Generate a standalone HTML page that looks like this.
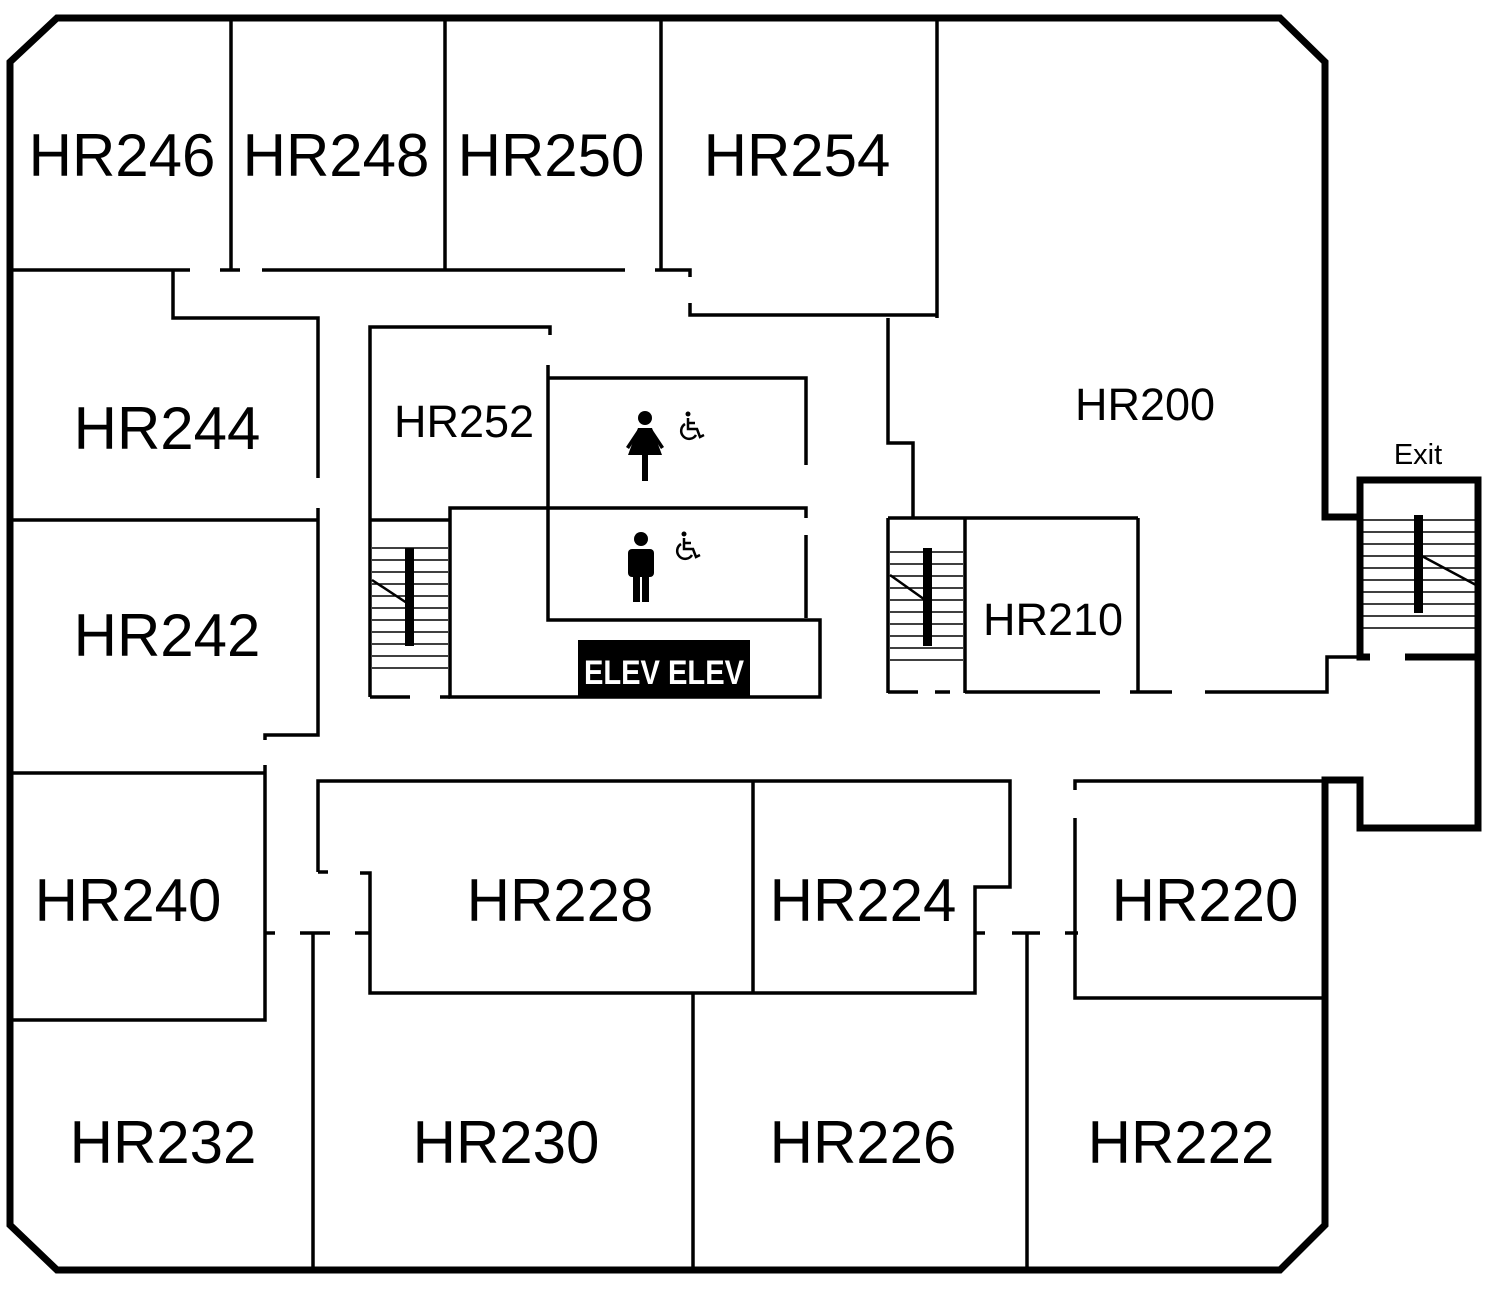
<!DOCTYPE html>
<html><head><style>
html,body{margin:0;padding:0;background:#fff;}
svg{display:block;}
text{font-family:"Liberation Sans",sans-serif;fill:#000;}
</style></head><body>
<svg width="1485" height="1290" viewBox="0 0 1485 1290" xmlns="http://www.w3.org/2000/svg">
<g fill="none" stroke="#000" stroke-width="7" stroke-linejoin="miter">
<path d="M57,18 L1280,18 L1325,62 L1325,517 L1360,517 L1360,480 L1478,480 L1478,828 L1360,828 L1360,780 L1325,780 L1325,1225 L1280,1270 L57,1270 L10,1225 L10,62 Z"/>
<path d="M1360,517 L1360,657 L1370,657 M1405,657 L1478,657"/>
</g>
<g fill="none" stroke="#000" stroke-width="3.5">
<path d="M231,18 L231,270 M445,18 L445,270 M661,18 L661,270 M937,18 L937,318"/>
<path d="M10,270 L190,270 M220,270 L240,270 M262,270 L625,270 M655,270 L690,270 L690,277 M690,303 L690,315 L937,315"/>
<path d="M173,270 L173,318 L318,318 L318,478 M318,508 L318,735 L265,735 L265,740"/>
<path d="M10,520 L318,520"/>
<path d="M10,773 L265,773 M265,765 L265,1020 L10,1020"/>
<path d="M265,933 L275,933 M300,933 L330,933 M355,933 L370,933 M313,933 L313,1270"/>
<path d="M318,872 L318,781 L1010,781 L1010,887 L975,887 L975,993 L370,993 L370,873 L360,873 M318,872 L328,872"/>
<path d="M753,781 L753,993 M693,993 L693,1270"/>
<path d="M975,933 L985,933 M1012,933 L1040,933 M1065,933 L1078,933 M1027,933 L1027,1270"/>
<path d="M1075,790 L1075,781 L1325,781 M1075,818 L1075,998 L1325,998"/>
<path d="M370,697 L370,327 L550,327 L550,335 M548,365 L548,620 L820,620 L820,697 L450,697 L450,508 L806,508 L806,518"/>
<path d="M548,378 L806,378 L806,465 M806,535 L806,618"/>
<path d="M370,520 L450,520 M370,697 L410,697 M440,697 L450,697"/>
<path d="M888,318 L888,443 L913,443 L913,518 M888,518 L1138,518 M888,518 L888,693 M965,518 L965,693 M1138,518 L1138,693"/>
<path d="M888,692 L918,692 M935,692 L950,692 M965,692 L1100,692 M1130,692 L1172,692 M1205,692 L1327,692 L1327,657 L1360,657"/>
</g>
<g stroke="#000" stroke-width="1.5">
<path d="M372,548H448M372,560H448M372,572H448M372,584H448M372,596H448M372,608H448M372,620H448M372,632H448M372,644H448M372,656H448M372,668H448"/>
<path d="M890,552H963M890,564H963M890,576H963M890,588H963M890,600H963M890,612H963M890,624H963M890,636H963M890,648H963M890,660H963"/>
<path d="M1362,520H1476M1362,532H1476M1362,544H1476M1362,556H1476M1362,568H1476M1362,580H1476M1362,592H1476M1362,604H1476M1362,616H1476M1362,628H1476"/>
</g>
<g stroke="#000" stroke-width="2.5">
<path d="M372,580 L410,605 M890,575 L928,602 M1420,555 L1476,585"/>
</g>
<g fill="#000">
<rect x="405" y="548" width="9" height="98"/>
<rect x="923" y="548" width="9" height="98"/>
<rect x="1414" y="515" width="9" height="98"/>
<rect x="578" y="640" width="172" height="57"/>
</g>
<text x="664" y="684" text-anchor="middle" font-size="34" font-weight="bold" style="fill:#fff" textLength="160" lengthAdjust="spacingAndGlyphs">ELEV ELEV</text>
<g fill="#000">
<circle cx="645" cy="418" r="7"/>
<path d="M638,428 L652,428 L662,455 L628,455 Z"/>
<rect x="642" y="455" width="6" height="26"/>
<path d="M638,429 L626,447 L629,449 L640,432 Z M652,429 L664,447 L661,449 L650,432 Z"/>
<circle cx="641" cy="539" r="7"/>
<rect x="628" y="549" width="26" height="28" rx="4"/>
<rect x="633" y="570" width="7" height="32"/>
<rect x="642" y="570" width="7" height="32"/>
</g>
<g fill="none" stroke="#000" stroke-width="2.5">
<g transform="translate(688,420)">
<circle cx="0" cy="-6" r="2.5" fill="#000" stroke="none"/>
<path d="M0,-2 L0,9 L9,9 L12,17 L16,15"/>
<path d="M0,3 L7,3"/>
<path d="M-3,4 A8,8 0 1 0 8,15"/>
</g>
<g transform="translate(684,540)">
<circle cx="0" cy="-6" r="2.5" fill="#000" stroke="none"/>
<path d="M0,-2 L0,9 L9,9 L12,17 L16,15"/>
<path d="M0,3 L7,3"/>
<path d="M-3,4 A8,8 0 1 0 8,15"/>
</g>
</g>
<g font-size="60" text-anchor="middle">
<text x="122" y="176">HR246</text>
<text x="336" y="176">HR248</text>
<text x="551" y="176">HR250</text>
<text x="797" y="176">HR254</text>
<text x="167" y="449">HR244</text>
<text x="167" y="656">HR242</text>
<text x="128" y="921">HR240</text>
<text x="560" y="921">HR228</text>
<text x="863" y="921">HR224</text>
<text x="1205" y="921">HR220</text>
<text x="163" y="1163">HR232</text>
<text x="506" y="1163">HR230</text>
<text x="863" y="1163">HR226</text>
<text x="1181" y="1163">HR222</text>
</g>
<g font-size="45" text-anchor="middle">
<text x="1145" y="420">HR200</text>
<text x="464" y="437">HR252</text>
<text x="1053" y="635">HR210</text>
</g>
<text x="1418" y="464" text-anchor="middle" font-size="29">Exit</text>
</svg>
</body></html>
